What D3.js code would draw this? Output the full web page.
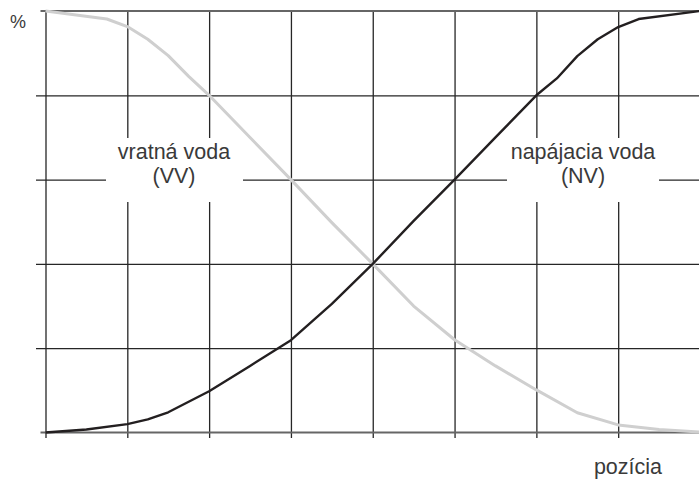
<!DOCTYPE html>
<html>
<head>
<meta charset="utf-8">
<script src="https://cdn.jsdelivr.net/npm/d3@7"></script>
<style>
  html, body { margin: 0; padding: 0; background: #fff; }
  svg { display: block; }
  text { font-family: "Liberation Sans", Arial, Helvetica, sans-serif; fill: #3a3a3a; }
</style>
</head>
<body>
<svg id="chart" width="699" height="480"></svg>
<script>
// ---- data ----
const xTicks = [0, 1, 2, 3, 4, 5, 6, 7];
const yTicks = [20, 40, 60, 80];
const nvX = [0, 0.5, 1, 1.25, 1.5, 2, 2.5, 3, 3.5, 4, 4.5, 5, 5.5, 6, 6.25, 6.5, 6.75, 7, 7.25, 8];
const nvY = [0, 0.7, 2.0, 3.1, 4.8, 9.8, 15.8, 21.9, 30.5, 40, 50.2, 60, 70, 80, 84, 89.3, 93.3, 96.2, 98.1, 100];
const vvX = [0, 0.75, 1, 1.25, 1.5, 1.75, 2, 2.5, 3, 3.5, 4, 4.5, 5, 5.5, 6, 6.5, 7, 7.5, 8];
const vvY = [100, 98.1, 96.3, 93.3, 89.4, 84.5, 80, 70, 60, 49.8, 40, 30, 22, 15.8, 10.1, 4.7, 1.8, 0.7, 0.1];
const yUnit = "%";
const xTitle = "pozícia";
const vvLabel = ["vratná voda", "(VV)"];
const nvLabel = ["napájacia voda", "(NV)"];

// ---- drawing ----
const svg = d3.select("#chart");
const x = d3.scaleLinear().domain([0, 8]).range([45.5, 700]);
const y = d3.scaleLinear().domain([0, 100]).range([432.5, 11]);

const gridColor = "#262626";

// horizontal grid lines + left ticks
const hg = svg.append("g")
  .attr("transform", "translate(699,0)")
  .call(d3.axisLeft(y).tickValues(yTicks).tickSize(699 - 36).tickFormat(""));
hg.select(".domain").remove();
hg.selectAll(".tick line").attr("stroke", gridColor).attr("stroke-width", 1.3);

// vertical grid lines + bottom ticks
const vg = svg.append("g")
  .attr("transform", "translate(0,438)")
  .call(d3.axisBottom(x).tickValues(xTicks).tickSize(-(438 - 11)).tickFormat(""));
vg.select(".domain").remove();
vg.selectAll(".tick line").attr("stroke", gridColor).attr("stroke-width", 1.3);

// top and bottom border lines
svg.append("line").attr("x1", 40.5).attr("x2", 699).attr("y1", y(100)).attr("y2", y(100))
  .attr("stroke", "#666").attr("stroke-width", 2);
svg.append("line").attr("x1", 40.5).attr("x2", 699).attr("y1", y(0)).attr("y2", y(0))
  .attr("stroke", "#666").attr("stroke-width", 2);

// label boxes (white, hiding grid)
function labelBlock(lines, cx, x0, x1) {
  svg.append("rect").attr("x", x0).attr("y", 138).attr("width", x1 - x0).attr("height", 64)
    .attr("fill", "#fff");
  lines.forEach((t, i) => {
    svg.append("text").attr("x", cx).attr("y", 159 + i * 24)
      .attr("text-anchor", "middle").attr("font-size", 21.5).text(t);
  });
}
labelBlock(vvLabel, 174, 106, 243);
labelBlock(nvLabel, 583, 507, 659);

// curves
const line = d3.line().x(d => x(d[0])).y(d => y(d[1]));
svg.append("path").datum(vvX.map((v, i) => [v, vvY[i]]))
  .attr("d", line).attr("fill", "none").attr("stroke", "#cfcfcf").attr("stroke-width", 3)
  .attr("stroke-linejoin", "round");
svg.append("path").datum(nvX.map((v, i) => [v, nvY[i]]))
  .attr("d", line).attr("fill", "none").attr("stroke", "#231f20").attr("stroke-width", 2.4)
  .attr("stroke-linejoin", "round");

// texts
svg.append("text").attr("x", 10).attr("y", 28).attr("font-size", 18).text(yUnit);
svg.append("text").attr("x", 662).attr("y", 474).attr("text-anchor", "end").attr("font-size", 21.5).text(xTitle);
</script>
</body>
</html>
